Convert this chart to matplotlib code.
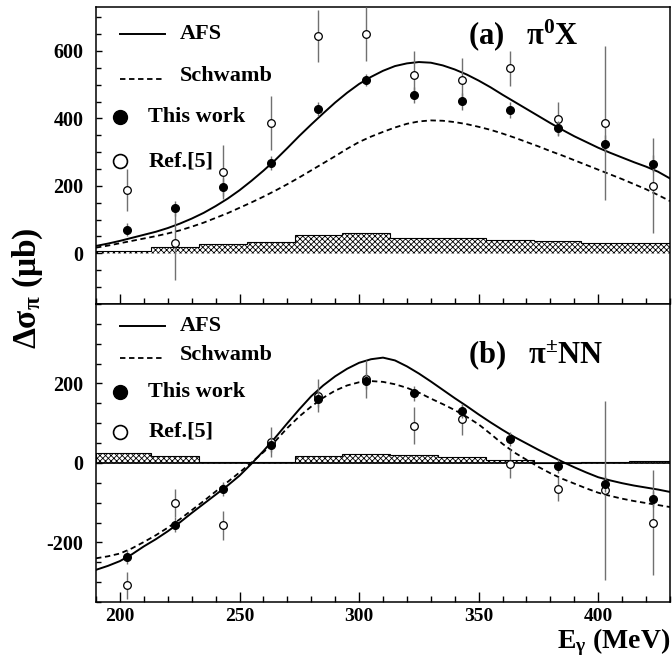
import matplotlib
matplotlib.use('Agg')
import matplotlib.pyplot as plt
from matplotlib.ticker import MultipleLocator

# Data
# .............................................................................

energy = [203, 223, 243, 263, 283, 303, 323, 343, 363, 383, 403, 423]

# (a) pi0 X
this_a     = [70, 133, 196, 268, 428, 513, 470, 451, 424, 371, 325, 266]
this_a_err = [19, 21, 27, 22, 22, 18, 24, 25, 24, 20, 25, 25]
ref_a      = [189, 31, 242, 385, 643, 651, 530, 513, 548, 399, 387, 201]
ref_a_err  = [62, 110, 80, 80, 77, 80, 70, 65, 53, 50, 228, 141]

# (b) pi+- NN
this_b     = [-237, -155, -65, 46, 160, 207, 175, 131, 60, -8, -52, -90]
this_b_err = [18, 18, 18, 18, 20, 20, 18, 18, 18, 18, 20, 20]
ref_b      = [-308, -101, -157, 53, 169, 211, 94, 110, -2, -66, -69, -151]
ref_b_err  = [34, 35, 37, 38, 42, 48, 47, 39, 37, 31, 225, 132]

# theory curves, sampled every 5 MeV
curve_e = [190, 195, 200, 205, 210, 215, 220, 225, 230, 235, 240, 245, 250,
           255, 260, 265, 270, 275, 280, 285, 290, 295, 300, 305, 310, 315,
           320, 325, 330, 335, 340, 345, 350, 355, 360, 365, 370, 375, 380,
           385, 390, 395, 400, 405, 410, 415, 420, 425, 430]
afs_a = [22, 29, 37, 46, 55, 64, 75, 88, 103, 120, 140, 162, 187,
         215, 245, 277, 312, 348, 382, 415, 447, 476, 502, 523, 541, 555,
         563, 567, 565, 557, 545, 530, 512, 492, 470, 449, 428, 407, 386,
         366, 347, 330, 313, 298, 284, 270, 257, 242, 222]
sch_a = [17, 23, 30, 37, 44, 51, 59, 68, 79, 91, 105, 119, 135,
         151, 168, 186, 205, 225, 246, 267, 288, 310, 330, 346, 360, 373,
         384, 391, 394, 393, 389, 383, 375, 366, 355, 343, 330, 317, 303,
         290, 276, 262, 248, 234, 220, 205, 190, 173, 155]
afs_b = [-269, -259, -247, -230, -210, -192, -172, -150, -126, -103, -80, -57, -32,
         -2, 30, 64, 100, 135, 168, 195, 218, 237, 252, 261, 265, 258,
         243, 225, 205, 184, 163, 143, 122, 102, 83, 65, 49, 33, 18,
         3, -11, -24, -36, -44, -51, -57, -62, -67, -73]
sch_b = [-240, -235, -228, -215, -199, -182, -163, -142, -119, -96, -72, -48, -24,
         1, 27, 55, 88, 117, 142, 164, 182, 195, 203, 206, 204, 198,
         189, 177, 162, 148, 133, 116, 97, 73, 48, 26, 8, -10, -26,
         -40, -52, -64, -75, -83, -90, -96, -101, -106, -111]

# systematic error bands
sys_edges = [190, 213, 233, 253, 273, 293, 313, 333, 353, 373, 393, 413, 433]
sys_a = [7, 20, 27, 35, 55, 60, 47, 45, 41, 37, 32, 30]
sys_b = [24, 17, 2, 2, 17, 22, 19, 14, 8, 1, 3, 4]

yticks_a = [0, 200, 400, 600]
yticks_b = [-200, 0, 200]


# Style
# .............................................................................

plt.rcParams['font.family'] = 'Liberation Serif'
plt.rcParams['font.weight'] = 'bold'
plt.rcParams['mathtext.fontset'] = 'custom'
plt.rcParams['mathtext.rm'] = 'Liberation Serif:bold'
plt.rcParams['mathtext.it'] = 'Liberation Serif:bold:italic'
plt.rcParams['mathtext.bf'] = 'Liberation Serif:bold'
plt.rcParams['axes.unicode_minus'] = False
plt.rcParams['hatch.linewidth'] = 0.6

GRAY = '#707070'


def style_axes(ax, yticks, show_xlabels):
    ax.set_xlim(190, 430)
    ax.xaxis.set_major_locator(MultipleLocator(50))
    ax.xaxis.set_minor_locator(MultipleLocator(10))
    ax.set_yticks(yticks)
    ax.yaxis.set_minor_locator(MultipleLocator(50))
    ax.tick_params(axis = 'x', which = 'major', direction = 'in', length = 7.5,
                   width = 1, labelsize = 14, pad = 4, top = False)
    ax.tick_params(axis = 'x', which = 'minor', direction = 'in', length = 4,
                   width = 1, top = False)
    ax.tick_params(axis = 'y', which = 'major', direction = 'in', length = 4.5,
                   width = 1, labelsize = 14.5, pad = 9, right = False)
    ax.tick_params(axis = 'y', which = 'minor', direction = 'in', length = 3.5,
                   width = 1, right = False)
    if not show_xlabels:
        ax.tick_params(axis = 'x', labelbottom = False)
    for s in ax.spines.values():
        s.set_linewidth(1.1)


def draw_panel(ax, this, this_err, ref, ref_err, afs, sch, sysv):
    ax.stairs(sysv, sys_edges, baseline = 0, fill = True, facecolor = 'white',
              edgecolor = 'black', hatch = 'xxxxxx', linewidth = 0.8, zorder = 1)
    ax.plot(curve_e, afs, color = 'black', lw = 1.4, zorder = 3)
    ax.plot(curve_e, sch, color = 'black', lw = 1.3, ls = (0, (3, 2)), zorder = 3)
    ax.errorbar(energy, ref, yerr = ref_err, fmt = 'o', ms = 5.5, mfc = 'white',
                mec = 'black', mew = 0.9, ecolor = GRAY, elinewidth = 1.0,
                capsize = 0, zorder = 4)
    ax.errorbar(energy, this, yerr = this_err, fmt = 'o', ms = 5.5, mfc = 'black',
                mec = 'black', ecolor = GRAY, elinewidth = 1.0, capsize = 0,
                zorder = 5)


def draw_legend(ax, ys, fs = 16):
    tr = ax.transAxes
    ax.plot([0.042, 0.120], [ys[0], ys[0]], color = 'black', lw = 1.4, transform = tr)
    ax.text(0.146, ys[0], 'AFS', transform = tr, fontsize = fs, va = 'center')
    ax.plot([0.042, 0.120], [ys[1] - 0.01, ys[1] - 0.01], color = 'black', lw = 1.3,
            ls = (0, (3, 2)), transform = tr)
    ax.text(0.146, ys[1], 'Schwamb', transform = tr, fontsize = fs, va = 'center')
    ax.plot([0.042], [ys[2]], 'o', ms = 10, mfc = 'black', mec = 'black',
            transform = tr)
    ax.text(0.091, ys[2], 'This work', transform = tr, fontsize = fs, va = 'center')
    ax.plot([0.042], [ys[3]], 'o', ms = 10, mfc = 'white', mec = 'black',
            mew = 1.2, transform = tr)
    ax.text(0.091, ys[3], 'Ref.[5]', transform = tr, fontsize = fs, va = 'center')


# Figure
# .............................................................................

fig = plt.figure(figsize = (6.72, 6.63), dpi = 100)
ax1 = fig.add_axes([0.1429, 0.5415, 0.8541, 0.4479])
ax2 = fig.add_axes([0.1429, 0.0920, 0.8541, 0.4495])

draw_panel(ax1, this_a, this_a_err, ref_a, ref_a_err, afs_a, sch_a, sys_a)
ax1.set_ylim(-150, 730)
style_axes(ax1, yticks_a, False)
draw_legend(ax1, [0.909, 0.768, 0.630, 0.481])
ax1.text(0.648, 0.906, '(a)   π$^{\\mathbf{0}}$X', transform = ax1.transAxes,
         fontsize = 22, va = 'center')

draw_panel(ax2, this_b, this_b_err, ref_b, ref_b_err, afs_b, sch_b, sys_b)
ax2.axhline(0, color = 'black', lw = 1.2, zorder = 2)
ax2.set_ylim(-350, 400)
style_axes(ax2, yticks_b, True)
draw_legend(ax2, [0.926, 0.829, 0.704, 0.571])
ax2.text(0.648, 0.829, '(b)   π$^{\\pm}$NN', transform = ax2.transAxes,
         fontsize = 22, va = 'center')

fig.text(0.042, 0.566, 'Δσ$_{\\mathrm{π}}$ (μb)', rotation = 90, fontsize = 24,
         ha = 'center', va = 'center')
fig.text(0.997, 0.0220, 'E$_{\\mathrm{γ}}$ (MeV)', fontsize = 20, ha = 'right',
         va = 'baseline')

fig.savefig('out.png', dpi = 100)
